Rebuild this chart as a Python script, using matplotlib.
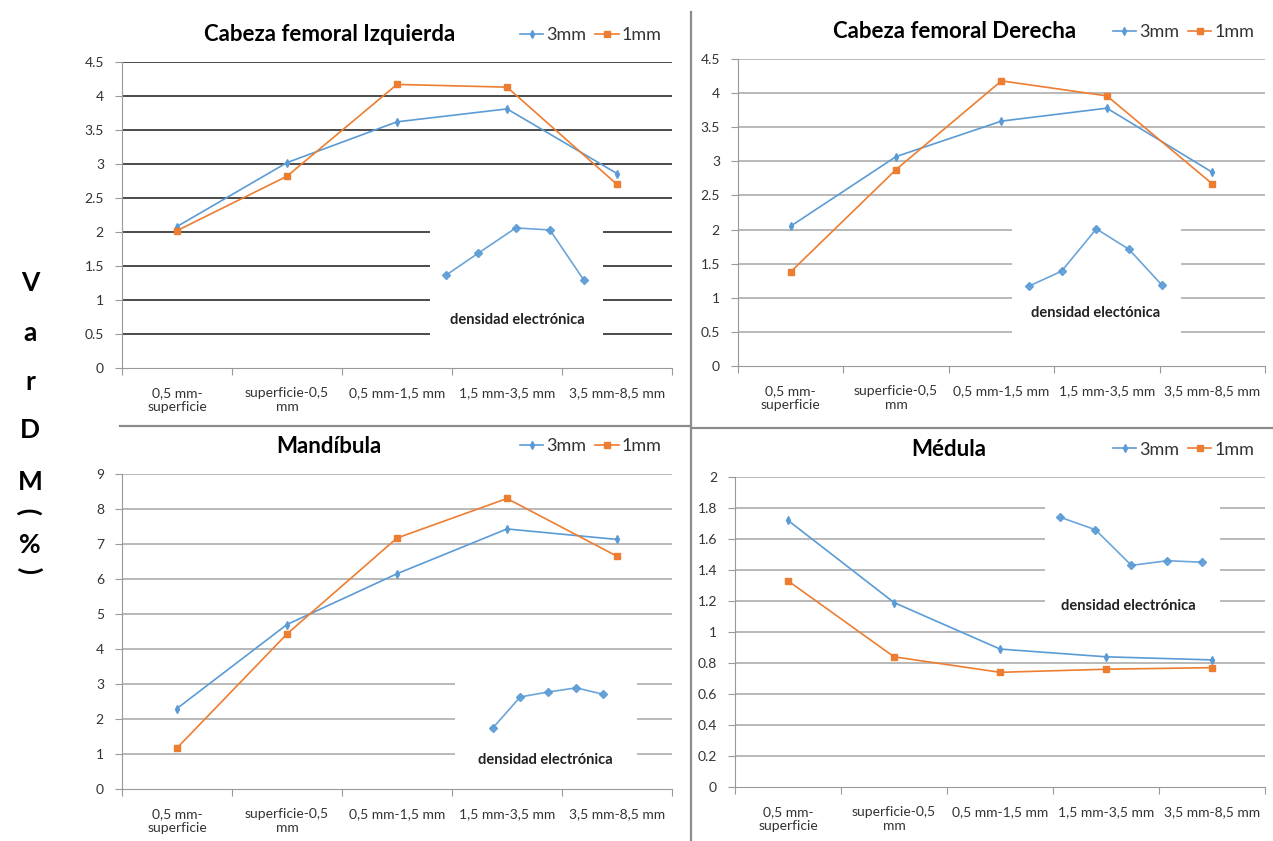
import numpy as np
import matplotlib.pyplot as plt
from matplotlib.lines import Line2D

plt.rcParams['font.family'] = ['Lato', 'DejaVu Sans']

categories = ["0,5 mm-\nsuperficie", "superficie-0,5\nmm", "0,5 mm-1,5 mm",
              "1,5 mm-3,5 mm", "3,5 mm-8,5 mm"]

# Cabeza femoral Izquierda
izq_3mm = [2.08, 3.02, 3.62, 3.81, 2.86]
izq_1mm = [2.02, 2.82, 4.17, 4.13, 2.70]
izq_dens_x = [2.95, 3.24, 3.58, 3.89, 4.20]
izq_dens = [1.37, 1.69, 2.06, 2.03, 1.29]

# Cabeza femoral Derecha
der_3mm = [2.05, 3.07, 3.59, 3.78, 2.84]
der_1mm = [1.38, 2.88, 4.18, 3.96, 2.67]
der_dens_x = [2.76, 3.07, 3.40, 3.71, 4.02]
der_dens = [1.17, 1.39, 2.01, 1.71, 1.19]

# Mandíbula
man_3mm = [2.30, 4.70, 6.15, 7.43, 7.13]
man_1mm = [1.17, 4.43, 7.17, 8.30, 6.65]
man_dens_x = [3.37, 3.62, 3.87, 4.13, 4.37]
man_dens = [1.74, 2.63, 2.77, 2.89, 2.71]

# Médula
med_3mm = [1.72, 1.19, 0.89, 0.84, 0.82]
med_1mm = [1.33, 0.84, 0.74, 0.76, 0.77]
med_dens_x = [3.07, 3.40, 3.74, 4.08, 4.41]
med_dens = [1.74, 1.66, 1.43, 1.46, 1.45]

BLUE = '#5b9bd5'
ORANGE = '#ed7d31'

fig = plt.figure(figsize=(12.73, 8.41), dpi=100)


def panel(rect, title, title_x, v3, v1, ymax, ystep, grid_color,
          dens_x, dens, dens_label, box, label_xy):
    ax = fig.add_axes(rect)
    x = np.arange(len(categories)) + 0.5
    ax.set_xlim(0, 5)
    ax.set_ylim(0, ymax)
    yt = np.arange(0, ymax + ystep / 2, ystep)
    ax.set_yticks(yt)
    ax.set_yticklabels([f"{v:g}" for v in yt])
    for v in yt[1:]:
        ax.axhline(v, color=grid_color, lw=1.1, zorder=0)
    ax.set_xticks(range(6))
    ax.set_xticklabels([])
    ax.set_xticks(x, minor=True)
    ax.set_xticklabels(categories, minor=True, fontsize=10, color='#333333')
    ax.tick_params(axis='x', which='major', length=5, color='#999999')
    ax.tick_params(axis='x', which='minor', length=0, pad=14)
    ax.tick_params(axis='y', length=5, color='#999999', labelsize=10,
                   labelcolor='#333333', pad=8)
    for s in ('top', 'right'):
        ax.spines[s].set_visible(False)
    for s in ('left', 'bottom'):
        ax.spines[s].set_color('#999999')
    ax.plot(x, v3, color=BLUE, lw=1.2, marker='d', ms=4, zorder=3)
    ax.plot(x, v1, color=ORANGE, lw=1.2, marker='s', ms=5, zorder=3)

    # inset: electron density profile on a white background
    ins = ax.inset_axes(box, transform=ax.transData, zorder=2)
    ins.set_xlim(box[0], box[0] + box[2])
    ins.set_ylim(box[1], box[1] + box[3])
    ins.set_facecolor('white')
    ins.set_xticks([])
    ins.set_yticks([])
    for s in ins.spines.values():
        s.set_visible(False)
    ins.plot(dens_x, dens, color=BLUE, lw=1.2, marker='D', ms=4.5, alpha=0.9)
    ins.text(label_xy[0], label_xy[1], dens_label, ha='center', va='center',
             fontsize=10.5, fontweight='bold', color='#222222')

    pos = ax.get_position()
    fig.text(title_x, pos.y1 + 0.033, title, ha='center', va='center',
             fontsize=16, fontweight='bold', color='black')
    handles = [Line2D([], [], color=BLUE, lw=1.2, marker='d', ms=4),
               Line2D([], [], color=ORANGE, lw=1.2, marker='s', ms=5)]
    ax.legend(handles, ['3mm', '1mm'], ncol=2, frameon=False,
              loc='center right', bbox_to_anchor=(1.01, 1.0 + 0.088),
              fontsize=13, handlelength=1.3, handletextpad=0.15,
              columnspacing=0.5, labelcolor='#333333')
    return ax


panel([0.0958, 0.5624, 0.4321, 0.3639], "Cabeza femoral Izquierda", 0.259,
      izq_3mm, izq_1mm, 4.5, 0.5, '#1a1a1a',
      izq_dens_x, izq_dens, "densidad electrónica",
      (2.8, 0.25, 1.57, 2.05), (3.59, 0.71))

panel([0.5797, 0.5648, 0.4140, 0.3650], "Cabeza femoral Derecha", 0.75,
      der_3mm, der_1mm, 4.5, 0.5, '#a6a6a6',
      der_dens_x, der_dens, "densidad electónica",
      (2.6, 0.25, 1.6, 2.05), (3.39, 0.78))

panel([0.0958, 0.0618, 0.4321, 0.3746], "Mandíbula", 0.258,
      man_3mm, man_1mm, 9, 1, '#a6a6a6',
      man_dens_x, man_dens, "densidad electrónica",
      (3.03, 0.5, 1.65, 3.0), (3.85, 0.83))

panel([0.5774, 0.0642, 0.4163, 0.3686], "Médula", 0.745,
      med_3mm, med_1mm, 2, 0.2, '#a6a6a6',
      med_dens_x, med_dens, "densidad electrónica",
      (2.92, 1.1, 1.66, 0.8), (3.71, 1.17))

# panel separators
fig.add_artist(Line2D([691 / 1273, 691 / 1273], [0, 1 - 12 / 841],
                      color='#8c8c8c', lw=1.6))
fig.add_artist(Line2D([120 / 1273, 691 / 1273], [1 - 426 / 841] * 2,
                      color='#8c8c8c', lw=1.6))
fig.add_artist(Line2D([691 / 1273, 1], [1 - 428 / 841] * 2,
                      color='#8c8c8c', lw=1.6))

# vertical axis label, one letter per line
letters = ["V", "a", "r", "D", "M", ")", "%", "("]
ys = [283, 333, 382, 430, 482, 511, 545, 569]
for ch, yy in zip(letters, ys):
    rot = 90 if ch in "()" else 0
    fig.text(30 / 1273, 1 - yy / 841, ch, ha='center', va='center',
             fontsize=19, fontweight='bold', rotation=rot)

fig.savefig("out.png", dpi=100, facecolor='white')
